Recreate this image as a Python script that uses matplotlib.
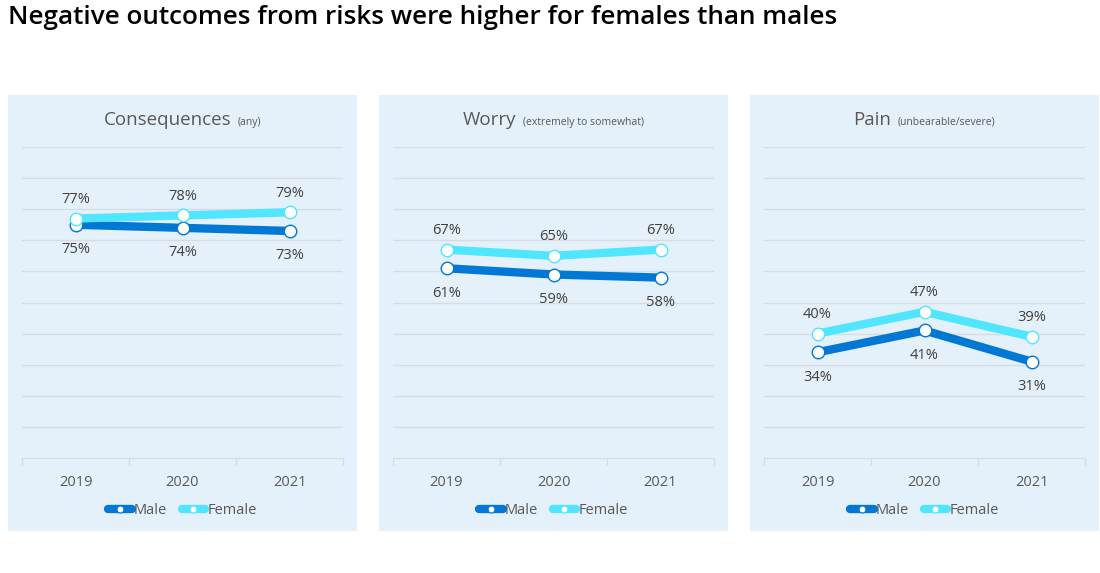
import matplotlib
matplotlib.use('Agg')
import matplotlib.pyplot as plt
from matplotlib.patches import Rectangle
from matplotlib.lines import Line2D

# ── data ──────────────────────────────────────────────────────────────────────
YEARS = ["2019", "2020", "2021"]
PANEL_TITLES = ["Consequences", "Worry", "Pain"]
PANEL_NOTES = ["(any)", "(extremely to somewhat)", "(unbearable/severe)"]
MALE = [[75, 74, 73], [61, 59, 58], [34, 41, 31]]
FEMALE = [[77, 78, 79], [67, 65, 67], [40, 47, 39]]

C_MALE = '#0078D4'
C_FEMALE = '#50E6FF'
C_BG = '#E4F0FA'
C_GRID = '#D8DCE0'
C_TEXT = '#404040'
C_TICK = '#595959'

plt.rcParams['font.family'] = ['Open Sans', 'DejaVu Sans']

W, H = 1100, 573
fig = plt.figure(figsize=(11, 5.73), dpi=100, facecolor='white')

fig.text(8 / W, 1 - 18 / H, 'Negative outcomes from risks were higher for females than males',
         ha='left', va='center', fontsize=18.8, fontweight='semibold', color='#000000')

PANEL_X = [8, 379, 750]
PANEL_W = 349
titles = []
for i in range(3):
    px = PANEL_X[i]
    fig.patches.append(Rectangle((px / W, 1 - 531 / H), PANEL_W / W, (531 - 95) / H,
                                 transform=fig.transFigure, facecolor=C_BG,
                                 edgecolor='none', zorder=-5))
    ax = fig.add_axes([(px + 14) / W, 1 - 458 / H, 321 / W, 311 / H])
    ax.set_facecolor('none')
    x = list(range(len(YEARS)))
    ax.plot(x, MALE[i], color=C_MALE, lw=6, solid_capstyle='butt', marker='o',
            ms=9, mfc='white', mec=C_MALE, mew=1, zorder=3)
    ax.plot(x, FEMALE[i], color=C_FEMALE, lw=6, solid_capstyle='butt', marker='o',
            ms=9, mfc='white', mec=C_FEMALE, mew=1, zorder=4)
    for xi, v in zip(x, FEMALE[i]):
        ax.annotate(f'{v}%', (xi, v), xytext=(0, 19), textcoords='offset pixels',
                    ha='center', va='center', fontsize=10.5, color=C_TEXT)
    for xi, v in zip(x, MALE[i]):
        ax.annotate(f'{v}%', (xi, v), xytext=(0, -25), textcoords='offset pixels',
                    ha='center', va='center', fontsize=10.5, color=C_TEXT)

    ax.set_xlim(-0.5, 2.5)
    ax.set_ylim(0, 100)
    ax.set_yticks(range(10, 101, 10))
    ax.yaxis.grid(True, color=C_GRID, lw=1)
    ax.set_axisbelow(True)
    ax.tick_params(axis='y', left=False, labelleft=False)
    ax.set_xticks(x)
    ax.set_xticklabels(YEARS)
    ax.tick_params(axis='x', length=0, pad=12, labelsize=10.5, labelcolor=C_TICK)
    ax.set_xticks([-0.5, 0.5, 1.5, 2.5], minor=True)
    ax.tick_params(axis='x', which='minor', length=5, color=C_GRID, width=1)
    for s in ['top', 'left', 'right']:
        ax.spines[s].set_visible(False)
    ax.spines['bottom'].set_color(C_GRID)

    handles = [Line2D([0], [0], color=C_MALE, lw=6, solid_capstyle='round', marker='o',
                      ms=5, mfc='white', mec=C_MALE, mew=0.8, label='Male'),
               Line2D([0], [0], color=C_FEMALE, lw=6, solid_capstyle='round', marker='o',
                      ms=5, mfc='white', mec=C_FEMALE, mew=0.8, label='Female')]
    ax.legend(handles=handles, loc='center', bbox_to_anchor=(0.5, -0.168), ncol=2,
              frameon=False, fontsize=10.5, labelcolor=C_TICK, handlelength=1.6,
              handletextpad=0.15, columnspacing=1.0)

    cx = (px + 14 + 160.5) / W
    cy = 1 - 125 / H
    t1 = fig.text(cx, cy, PANEL_TITLES[i], ha='left', va='baseline', fontsize=13.5, color=C_TICK)
    t2 = fig.text(cx, cy, PANEL_NOTES[i], ha='left', va='baseline', fontsize=7.5, color=C_TICK)
    titles.append((cx, t1, t2))

# centre the two-part panel titles
fig.canvas.draw()
r = fig.canvas.get_renderer()
gap = 7
for cx, t1, t2 in titles:
    w1 = t1.get_window_extent(r).width
    w2 = t2.get_window_extent(r).width
    left = cx * W - (w1 + gap + w2) / 2
    t1.set_x(left / W)
    t2.set_x((left + w1 + gap) / W)

fig.savefig('out.png', dpi=100, facecolor='white')
